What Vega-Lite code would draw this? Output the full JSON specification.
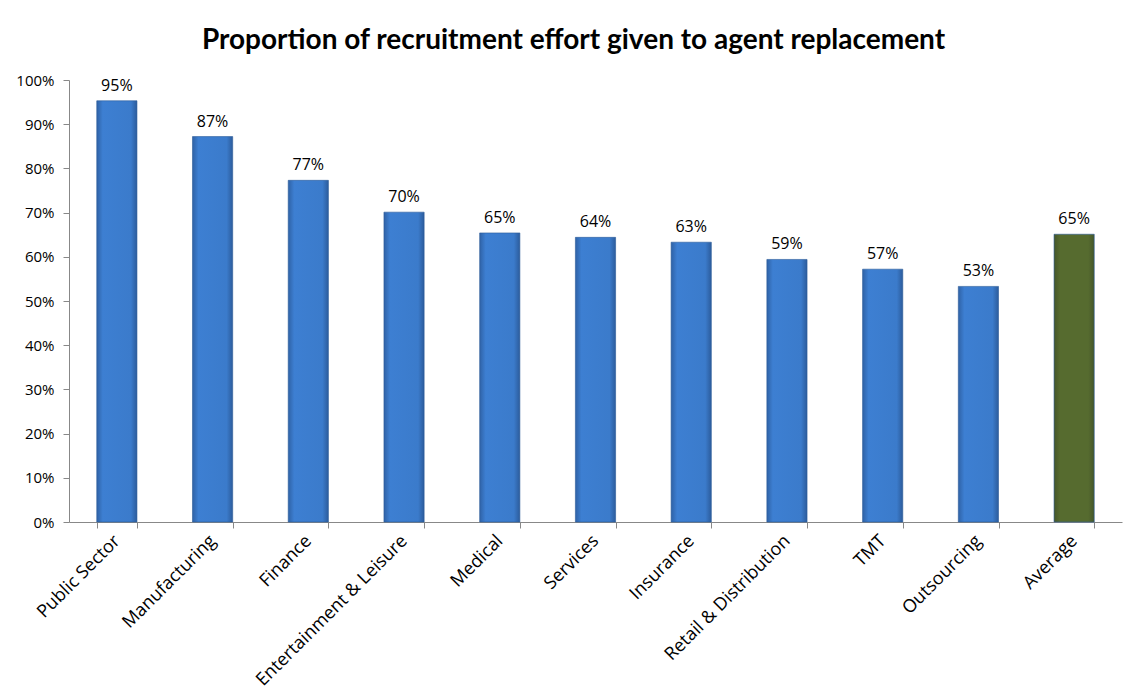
{
  "$schema": "https://vega.github.io/schema/vega-lite/v6.json",
  "width": 1053,
  "height": 442,
  "autosize": "none",
  "padding": {"left": 69, "top": 80, "right": 10, "bottom": 172},
  "background": "white",
  "title": {
    "text": "Proportion of recruitment effort given to agent replacement",
    "font": "Lato",
    "fontSize": 28,
    "fontWeight": "bold",
    "color": "black",
    "anchor": "middle",
    "dx": -22,
    "offset": 18
  },
  "data": {
    "values": [
      {"Sector": "Public Sector", "Share": 0.953},
      {"Sector": "Manufacturing", "Share": 0.872},
      {"Sector": "Finance", "Share": 0.773},
      {"Sector": "Entertainment & Leisure", "Share": 0.701},
      {"Sector": "Medical", "Share": 0.654},
      {"Sector": "Services", "Share": 0.644},
      {"Sector": "Insurance", "Share": 0.633},
      {"Sector": "Retail & Distribution", "Share": 0.594},
      {"Sector": "TMT", "Share": 0.572},
      {"Sector": "Outsourcing", "Share": 0.533},
      {"Sector": "Average", "Share": 0.651}
    ]
  },
  "encoding": {
    "x": {
      "field": "Sector",
      "type": "nominal",
      "sort": null,
      "scale": {"paddingInner": 0.58, "paddingOuter": 0.29},
      "axis": {
        "title": null,
        "labelAngle": -45,
        "labelAlign": "right",
        "labelBaseline": "middle",
        "labelFont": "Open Sans",
        "labelFontSize": 18,
        "labelColor": "black",
        "labelPadding": 10,
        "labelLimit": 400,
        "tickBand": "extent",
        "tickSize": 6,
        "tickColor": "#888888",
        "domainColor": "#888888"
      }
    },
    "y": {
      "field": "Share",
      "type": "quantitative",
      "scale": {"domain": [0, 1], "nice": false},
      "axis": {
        "title": null,
        "format": ".0%",
        "values": [0, 0.1, 0.2, 0.3, 0.4, 0.5, 0.6, 0.7, 0.8, 0.9, 1],
        "grid": false,
        "labelFont": "Open Sans",
        "labelFontSize": 15,
        "labelColor": "black",
        "labelPadding": 9,
        "tickSize": 6,
        "tickColor": "#888888",
        "domainColor": "#888888"
      }
    }
  },
  "layer": [
    {
      "mark": {"type": "bar", "stroke": "#2a5a99", "strokeWidth": 0.6},
      "encoding": {
        "fill": {
          "condition": {
            "test": "datum.Sector === 'Average'",
            "value": {
              "gradient": "linear", "x1": 0, "y1": 0, "x2": 1, "y2": 0,
              "stops": [
                {"offset": 0, "color": "#45562a"},
                {"offset": 0.15, "color": "#566b2f"},
                {"offset": 0.85, "color": "#566b2f"},
                {"offset": 1, "color": "#45562a"}
              ]
            }
          },
          "value": {
            "gradient": "linear", "x1": 0, "y1": 0, "x2": 1, "y2": 0,
            "stops": [
              {"offset": 0, "color": "#2f62a6"},
              {"offset": 0.15, "color": "#3d7fd2"},
              {"offset": 0.85, "color": "#3b7bcb"},
              {"offset": 1, "color": "#2c5c9c"}
            ]
          }
        }
      }
    },
    {
      "mark": {"type": "text", "dy": -15, "font": "Open Sans", "fontSize": 16, "color": "black"},
      "encoding": {
        "text": {"field": "Share", "type": "quantitative", "format": ".0%"}
      }
    }
  ],
  "config": {"view": {"stroke": null}}
}
